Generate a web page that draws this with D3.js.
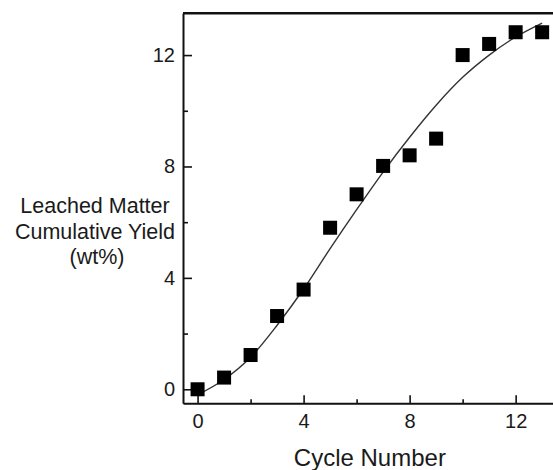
<!DOCTYPE html>
<html>
<head>
<meta charset="utf-8">
<script src="https://cdn.jsdelivr.net/npm/d3@7"></script>
<style>
  body { margin: 0; background: #fff; }
  svg text { font-family: "Liberation Sans", Arial, sans-serif; fill: #1a1a1a; }
</style>
</head>
<body>
<div id="chart"></div>
<script>
// data
var cycles = [0, 1, 2, 3, 4, 5, 6, 7, 8, 9, 10, 11, 12, 13];
var yieldPct = [0.0, 0.42, 1.23, 2.63, 3.58, 5.8, 7.0, 8.02, 8.4, 9.0, 12.0, 12.4, 12.82, 12.82];
// fitted curve, read at each cycle
var fitYield = [-0.2, 0.35, 1.15, 2.3, 3.6, 5.05, 6.45, 7.8, 9.05, 10.2, 11.2, 12.0, 12.65, 13.15];
var xMajor = [0, 4, 8, 12], xMinor = [2, 6, 10];
var yMajor = [0, 4, 8, 12], yMinor = [2, 6, 10];

var W = 553, H = 470;
var svg = d3.select("#chart")
  .append("svg")
    .attr("width", W)
    .attr("height", H);

var x = d3.scaleLinear()
  .domain([-0.55, 13.5])
  .range([183, 555.4]);

var y = d3.scaleLinear()
  .domain([-0.5, 13.5])
  .range([403.2, 13.3]);

// minor ticks
svg.append("g")
  .attr("transform", "translate(0," + y(-0.5) + ")")
  .call(d3.axisBottom(x).tickValues(xMinor).tickSize(-4).tickFormat(""))
  .call(function(g) { g.select(".domain").remove(); });
svg.append("g")
  .attr("transform", "translate(" + x(-0.55) + ",0)")
  .call(d3.axisLeft(y).tickValues(yMinor).tickSize(-5).tickFormat(""))
  .call(function(g) { g.select(".domain").remove(); });

// X axis
var xAxis = svg.append("g")
  .attr("transform", "translate(0," + y(-0.5) + ")")
  .call(d3.axisBottom(x).tickValues(xMajor).tickSize(-8).tickPadding(11).tickSizeOuter(0));
xAxis.selectAll("text").style("font-size", "20px");

// Y axis
var yAxis = svg.append("g")
  .attr("transform", "translate(" + x(-0.55) + ",0)")
  .call(d3.axisLeft(y).tickValues(yMajor).tickSize(-9).tickPadding(8).tickSizeOuter(0));
yAxis.selectAll("text").style("font-size", "20px");

svg.selectAll(".domain").attr("stroke-width", 2).attr("stroke", "#111");
svg.selectAll(".tick line").attr("stroke-width", 1.6).attr("stroke", "#111");

// top border
svg.append("line")
  .attr("x1", x(-0.55)).attr("x2", W)
  .attr("y1", y(13.5)).attr("y2", y(13.5))
  .attr("stroke", "#111").attr("stroke-width", 2.4);

// fitted line
var line = d3.line()
  .x(function(d, i) { return x(cycles[i]); })
  .y(function(d) { return y(d); })
  .curve(d3.curveMonotoneX);
svg.append("path")
  .datum(fitYield)
  .attr("d", line)
  .attr("fill", "none")
  .attr("stroke", "#333")
  .attr("stroke-width", 1.4);

// squares
var s = 14;
svg.selectAll("mysq")
  .data(yieldPct)
  .enter()
  .append("rect")
    .attr("x", function(d, i) { return x(cycles[i]) - s / 2; })
    .attr("y", function(d) { return y(d) - s / 2; })
    .attr("width", s)
    .attr("height", s)
    .attr("fill", "#000");

// axis titles
svg.append("text")
  .attr("x", x(6.5))
  .attr("y", 466)
  .attr("text-anchor", "middle")
  .style("font-size", "24px")
  .text("Cycle Number");

var ttl = svg.append("text")
  .attr("text-anchor", "middle")
  .style("font-size", "21.5px");
ttl.append("tspan").attr("x", 95).attr("y", 213).text("Leached Matter");
ttl.append("tspan").attr("x", 95).attr("y", 239).text("Cumulative Yield");
ttl.append("tspan").attr("x", 97).attr("y", 264).text("(wt%)");
</script>
</body>
</html>
